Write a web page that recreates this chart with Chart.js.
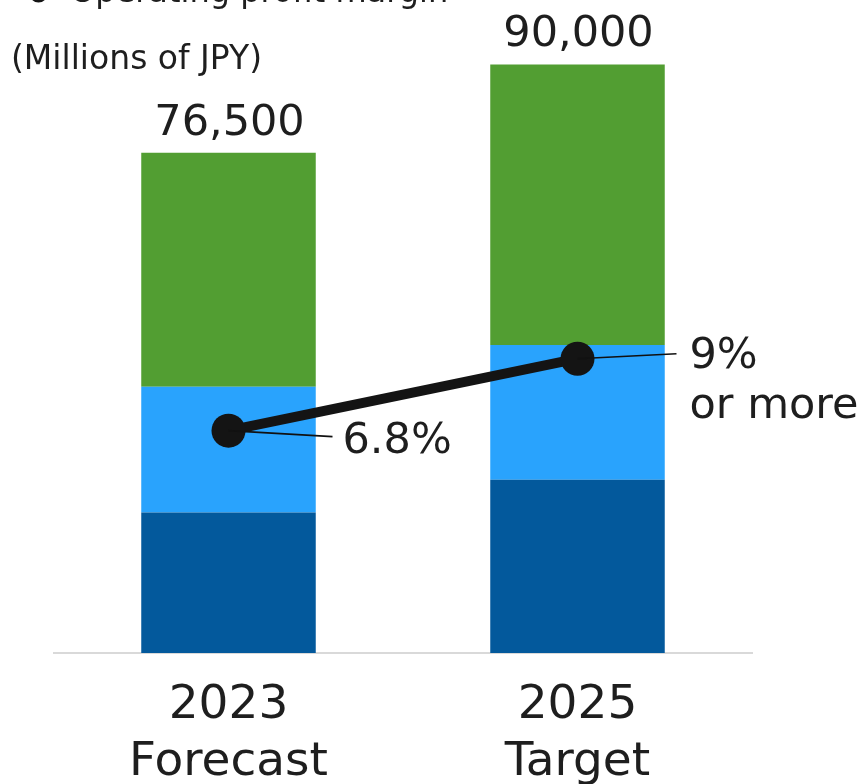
<!DOCTYPE html>
<html>
<head>
<meta charset="utf-8">
<script src="https://cdn.jsdelivr.net/npm/chart.js@4/dist/chart.umd.min.js"></script>
<style>
  html, body { margin: 0; padding: 0; background: #ffffff; overflow: hidden; width: 861px; height: 784px; }
  #wrap { position: absolute; left: 0; top: -18px; width: 861px; height: 802px; }
</style>
</head>
<body>
<div id="wrap"><canvas id="chart" width="861" height="802"></canvas></div>
<script>
// Net sales by segment (millions of JPY) and operating profit margin (%)
const categories = [["2023", "Forecast"], ["2025", "Target"]];
const segmentBase = [21500, 26500];
const segmentMiddle = [19200, 20600];
const segmentTop = [35800, 42900];
const operatingMargin = [6.8, 9];
const marginSuffix = [[], ["or more"]];
const unitLabel = "(Millions of JPY)";
const marginLegend = "Operating profit margin";

const FONT = "'DejaVu Sans', Verdana, sans-serif";
const TEXT = "#1e1e1e";
const SHIFT = 18; // canvas sits this far above the page top

// leader line end / text anchor offsets for each margin label
const marginLabelPlacement = [
  { lx: 104, ly: 6, tx: 114, ty: 22 },
  { lx: 99, ly: -5, tx: 112, ty: 9 }
];

const annotations = {
  id: "annotations",
  afterDatasetsDraw(chart) {
    const ctx = chart.ctx;
    ctx.save();

    // totals above the stacked bars
    const topMeta = chart.getDatasetMeta(2);
    ctx.font = "43px " + FONT;
    ctx.fillStyle = TEXT;
    ctx.textAlign = "center";
    ctx.textBaseline = "alphabetic";
    categories.forEach((c, i) => {
      const total = segmentBase[i] + segmentMiddle[i] + segmentTop[i];
      const bar = topMeta.data[i];
      ctx.fillText(total.toLocaleString("en-US"), bar.x + 1, bar.y - 18);
    });

    // margin labels with leader lines
    const lineMeta = chart.getDatasetMeta(3);
    ctx.font = "43px " + FONT;
    ctx.textAlign = "left";
    lineMeta.data.forEach((pt, i) => {
      const p = marginLabelPlacement[i];
      ctx.strokeStyle = "#111111";
      ctx.lineWidth = 1.6;
      ctx.beginPath();
      ctx.moveTo(pt.x, pt.y);
      ctx.lineTo(pt.x + p.lx, pt.y + p.ly);
      ctx.stroke();
      const lines = [operatingMargin[i] + "%"].concat(marginSuffix[i]);
      lines.forEach((t, k) => ctx.fillText(t, pt.x + p.tx, pt.y + p.ty + k * 50));
    });

    // unit caption and margin legend entry
    ctx.translate(0, SHIFT);
    ctx.font = "33px " + FONT;
    ctx.fillText(unitLabel, 11, 69);
    ctx.font = "32px " + FONT;
    ctx.fillText(marginLegend, 70, 2);
    ctx.fillStyle = "#141414";
    ctx.beginPath();
    ctx.arc(38.5, -7.5, 10, 0, Math.PI * 2);
    ctx.fill();

    ctx.restore();
  }
};

new Chart(document.getElementById("chart"), {
  data: {
    labels: categories,
    datasets: [
      { type: "bar", label: "Segment 1", data: segmentBase, backgroundColor: "#03599c", yAxisID: "y", order: 2 },
      { type: "bar", label: "Segment 2", data: segmentMiddle, backgroundColor: "#29a3fd", yAxisID: "y", order: 2 },
      { type: "bar", label: "Segment 3", data: segmentTop, backgroundColor: "#529e32", yAxisID: "y", order: 2 },
      {
        type: "line", label: marginLegend, data: operatingMargin, yAxisID: "y2", order: 0,
        borderColor: "#141414", borderWidth: 10, pointRadius: 17, pointHoverRadius: 17,
        pointBackgroundColor: "#141414", pointBorderWidth: 0, tension: 0, clip: false
      }
    ]
  },
  options: {
    responsive: false,
    animation: false,
    devicePixelRatio: 1,
    layout: { padding: { left: 54, right: 109, top: 0, bottom: 0 } },
    datasets: { bar: { barPercentage: 0.5, categoryPercentage: 1.0 } },
    plugins: { legend: { display: false }, tooltip: { enabled: false } },
    scales: {
      x: {
        stacked: true,
        grid: { display: false },
        border: { display: true, color: "#d9d9d9", width: 2 },
        ticks: { color: TEXT, padding: 17, font: { family: FONT, size: 47, lineHeight: 1.2 } },
        afterFit(scale) { scale.height = 131; }
      },
      y: { stacked: true, display: false, min: 0, max: 100000 },
      y2: { display: false, min: 0, max: 20 }
    }
  },
  plugins: [annotations]
});
</script>
</body>
</html>
